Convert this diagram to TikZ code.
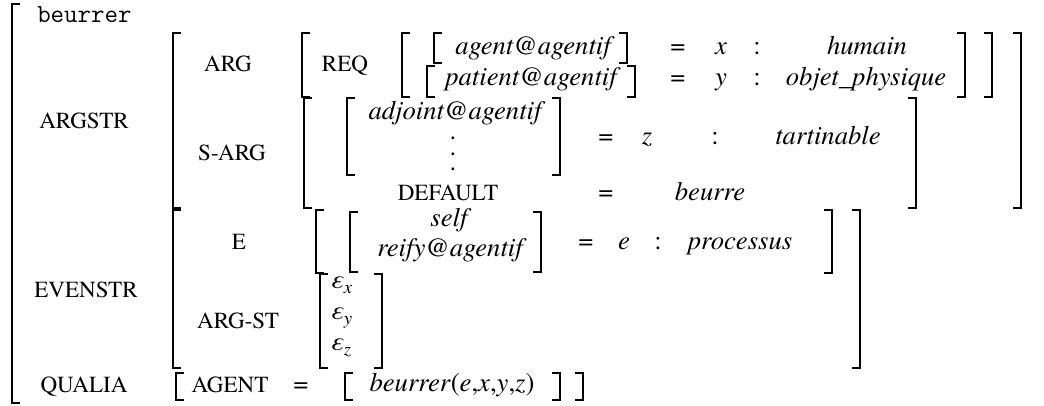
\documentclass[tikz,border=0pt]{standalone}
\usepackage{fontspec}
\setmainfont{texgyretermes}[Extension=.otf, UprightFont=*-regular, ItalicFont=*-italic, BoldFont=*-bold]
\newcommand\brL[3]{\draw[brk] (#1,#2) ++(8,0) -- ++(-8,0) -- (#1,#3) -- ++(8,0);}
\newcommand\brR[3]{\draw[brk] (#1,#2) ++(-8,0) -- ++(8,0) -- (#1,#3) -- ++(-8,0);}
\newcommand\epssub[1]{\textit{ε}\raisebox{-4pt}{\fontsize{14}{14}\selectfont\itshape #1}}
\begin{document}
\begin{tikzpicture}[x=0.75pt,y=-0.75pt,
  brk/.style={draw, line width=1.05pt},
  tx/.style={inner sep=0pt, anchor=base, font=\fontsize{20}{24}\selectfont},
  itx/.style={inner sep=0pt, anchor=base, font=\fontsize{20}{24}\selectfont\itshape},
  lab/.style={inner sep=0pt, anchor=base, font=\fontsize{17.3}{20}\selectfont},
  mono/.style={inner sep=0pt, anchor=base west, font=\fontsize{19.6}{22}\selectfont\ttfamily},
  eps/.style={inner sep=0pt, anchor=base west, font=\fontsize{20}{24}\selectfont},
]
\useasboundingbox (0,0) rectangle (1044,406);

% ---------- brackets ----------
\brL{12}{4}{403}
% ARGSTR value
\brL{173}{33}{208} \brR{1021}{33}{208}
% ARG value
\brL{302}{33}{97} \brR{992}{33}{97}
% REQ value
\brL{402}{33}{97} \brR{965}{33}{97}
% agent / patient
\brL{434}{33}{63} \brR{627}{33}{63}
\brL{427}{66}{97} \brR{635}{66}{97}
% S-ARG value
\brL{304}{98}{208} \brR{916}{98}{208}
% adjoint
\brL{347}{98}{175} \brR{560}{98}{175}
% EVENSTR value
\brL{173}{210}{368} \brR{860}{210}{368}
% E value
\brL{316}{210}{273} \brR{832}{210}{273}
% self / reify
\brL{350}{212}{272} \brR{541}{212}{272}
% ARG-ST value
\brL{320}{274}{368} \brR{382}{274}{368}
% QUALIA value
\brL{176}{373}{400} \brR{583}{373}{400}
% beurrer(e,x,y,z)
\brL{345}{373}{400} \brR{560}{373}{400}

% ---------- texts ----------
\node[mono] (head) at (37,23) {beurrer};
\node[lab] (argstr) at (84,128) {ARGSTR};
\node[lab] (arg) at (228,72) {ARG};
\node[lab] (req) at (345,72) {REQ};
\node[itx] (agent) at (533,55) {agent@agentif};
\node[itx] (patient) at (531,86) {patient@agentif};
\node[tx] (eq1) at (678,55) {=};
\node[tx] (eq2) at (678,86) {=};
\node[itx] (vx) at (721,55) {x};
\node[itx] (vy) at (721,86) {y};
\node[tx] (c1) at (757,55) {:};
\node[tx] (c2) at (757,86) {:};
\node[itx] (humain) at (867,55) {humain};
\node[itx] (objet) at (866,86) {objet\_physique};

\node[lab] (sarg) at (232,161) {S-ARG};
\node[itx] (adjoint) at (455,120) {adjoint@agentif};
\node[tx] (dot1) at (453,139) {.};
\node[tx] (dot2) at (453,155) {.};
\node[tx] (dot3) at (453,171) {.};
\node[tx] (eq3) at (606,144) {=};
\node[itx] (vz) at (647,144) {z};
\node[tx] (c3) at (715,144) {:};
\node[itx] (tart) at (828,144) {tartinable};
\node[lab] (default) at (448,200) {DEFAULT};
\node[tx] (eq4) at (606,200) {=};
\node[itx] (beurre) at (710,200) {beurre};

\node[lab] (evenstr) at (86,297) {EVENSTR};
\node[lab] (e) at (239,249) {E};
\node[itx] (self) at (449,226) {self};
\node[itx] (reify) at (450,256) {reify@agentif};
\node[tx] (eq5) at (586,249) {=};
\node[itx] (ve) at (624,249) {e};
\node[tx] (c4) at (658,249) {:};
\node[itx] (proc) at (740,249) {processus};
\node[lab] (argst) at (238,328) {ARG-ST};
\node[eps] (ex) at (330,288) {\epssub{x}};
\node[eps] (ey) at (330,319) {\epssub{y}};
\node[eps] (ez) at (330,350) {\epssub{z}};

\node[lab] (qualia) at (84,392) {QUALIA};
\node[lab] (agentl) at (230,392) {AGENT};
\node[tx] (eq6) at (301,392) {=};
\node[tx] (pred) at (452,391) {\textit{beurrer}(\textit{e},\textit{x},\textit{y},\textit{z})};
\end{tikzpicture}
\end{document}
